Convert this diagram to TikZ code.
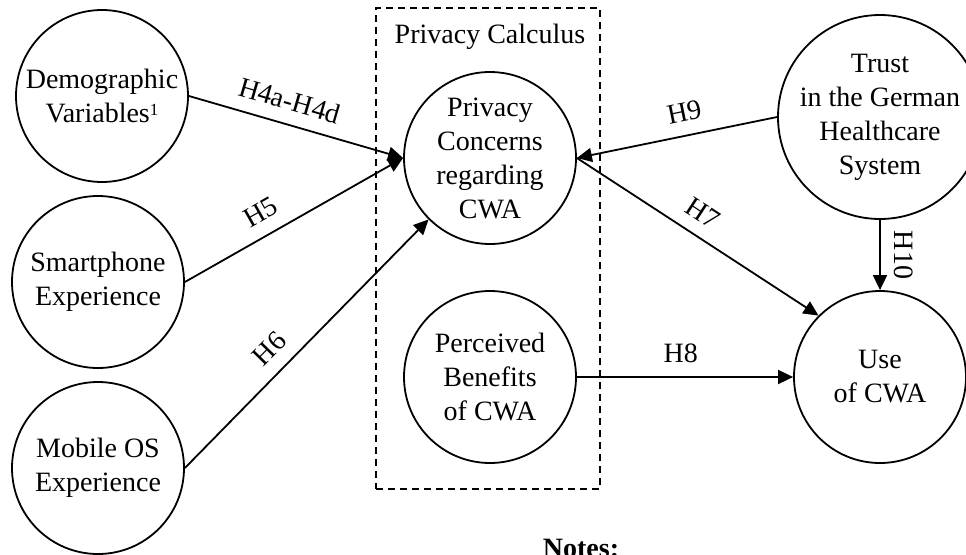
\documentclass[tikz,border=0pt]{standalone}
\usepackage{fontspec}
\setmainfont{Liberation Serif}
\usetikzlibrary{arrows.meta}
\begin{document}
\begin{tikzpicture}[x=1pt,y=1pt,
  txt/.style={font=\fontsize{28}{34}\selectfont},
  cnode/.style={txt,circle,draw,line width=1.8pt,minimum size=172pt,inner sep=0pt,align=center},
  conn/.style={line width=1.8pt,-{Triangle[length=15pt,width=14pt]}},
  hlab/.style={txt,sloped,above=13pt,inner sep=0pt},
  calcbox/.style={draw,dash pattern=on 7pt off 5pt,line width=1.4pt,inner sep=0pt,minimum width=224pt,minimum height=481pt}
]
\useasboundingbox (0,0) rectangle (966,-554);
\clip (0,0) rectangle (966,-554);

\node[calcbox] (box) at (488,-248.5) {};
\node[txt,anchor=base] (pcalc) at (490,-43) {Privacy Calculus};

\node[cnode] (demo) at (102,-96) {Demographic\\Variables\raisebox{7pt}{\fontsize{17}{17}\selectfont 1}};
\node[cnode] (smart) at (98,-282) {Smartphone\\Experience};
\node[cnode] (mos) at (98,-468) {Mobile OS\\Experience};
\node[cnode] (pc) at (490,-158) {Privacy\\Concerns\\regarding\\CWA};
\node[cnode] (pb) at (490,-377) {Perceived\\Benefits\\of CWA};
\node[cnode] (trust) at (880,-117) {Trust\\in the German\\Healthcare\\System};
\node[cnode] (use) at (880,-377) {Use\\of CWA};

\draw[conn] (demo.east) -- node[hlab,pos=0.44] {H4a-H4d} (pc.west);
\draw[conn] (smart.east) -- node[hlab,pos=0.40] {H5} (pc.west);
\draw[conn] (mos.east) -- node[hlab,pos=0.415] {H6} (pc.south west);
\draw[conn] (trust.west) -- node[hlab,pos=0.44] {H9} (pc.east);
\draw[conn] (pc.east) -- node[hlab,pos=0.47] {H7} (use.north west);
\draw[conn] (pb.east) -- node[hlab,pos=0.48] {H8} (use.west);
\draw[conn] (trust.south) -- node[hlab,pos=0.5] {H10} (use.north);

\node[txt,font=\fontsize{28}{34}\selectfont\bfseries,anchor=base] (notes) at (581,-557.5) {Notes:};
\end{tikzpicture}
\end{document}
